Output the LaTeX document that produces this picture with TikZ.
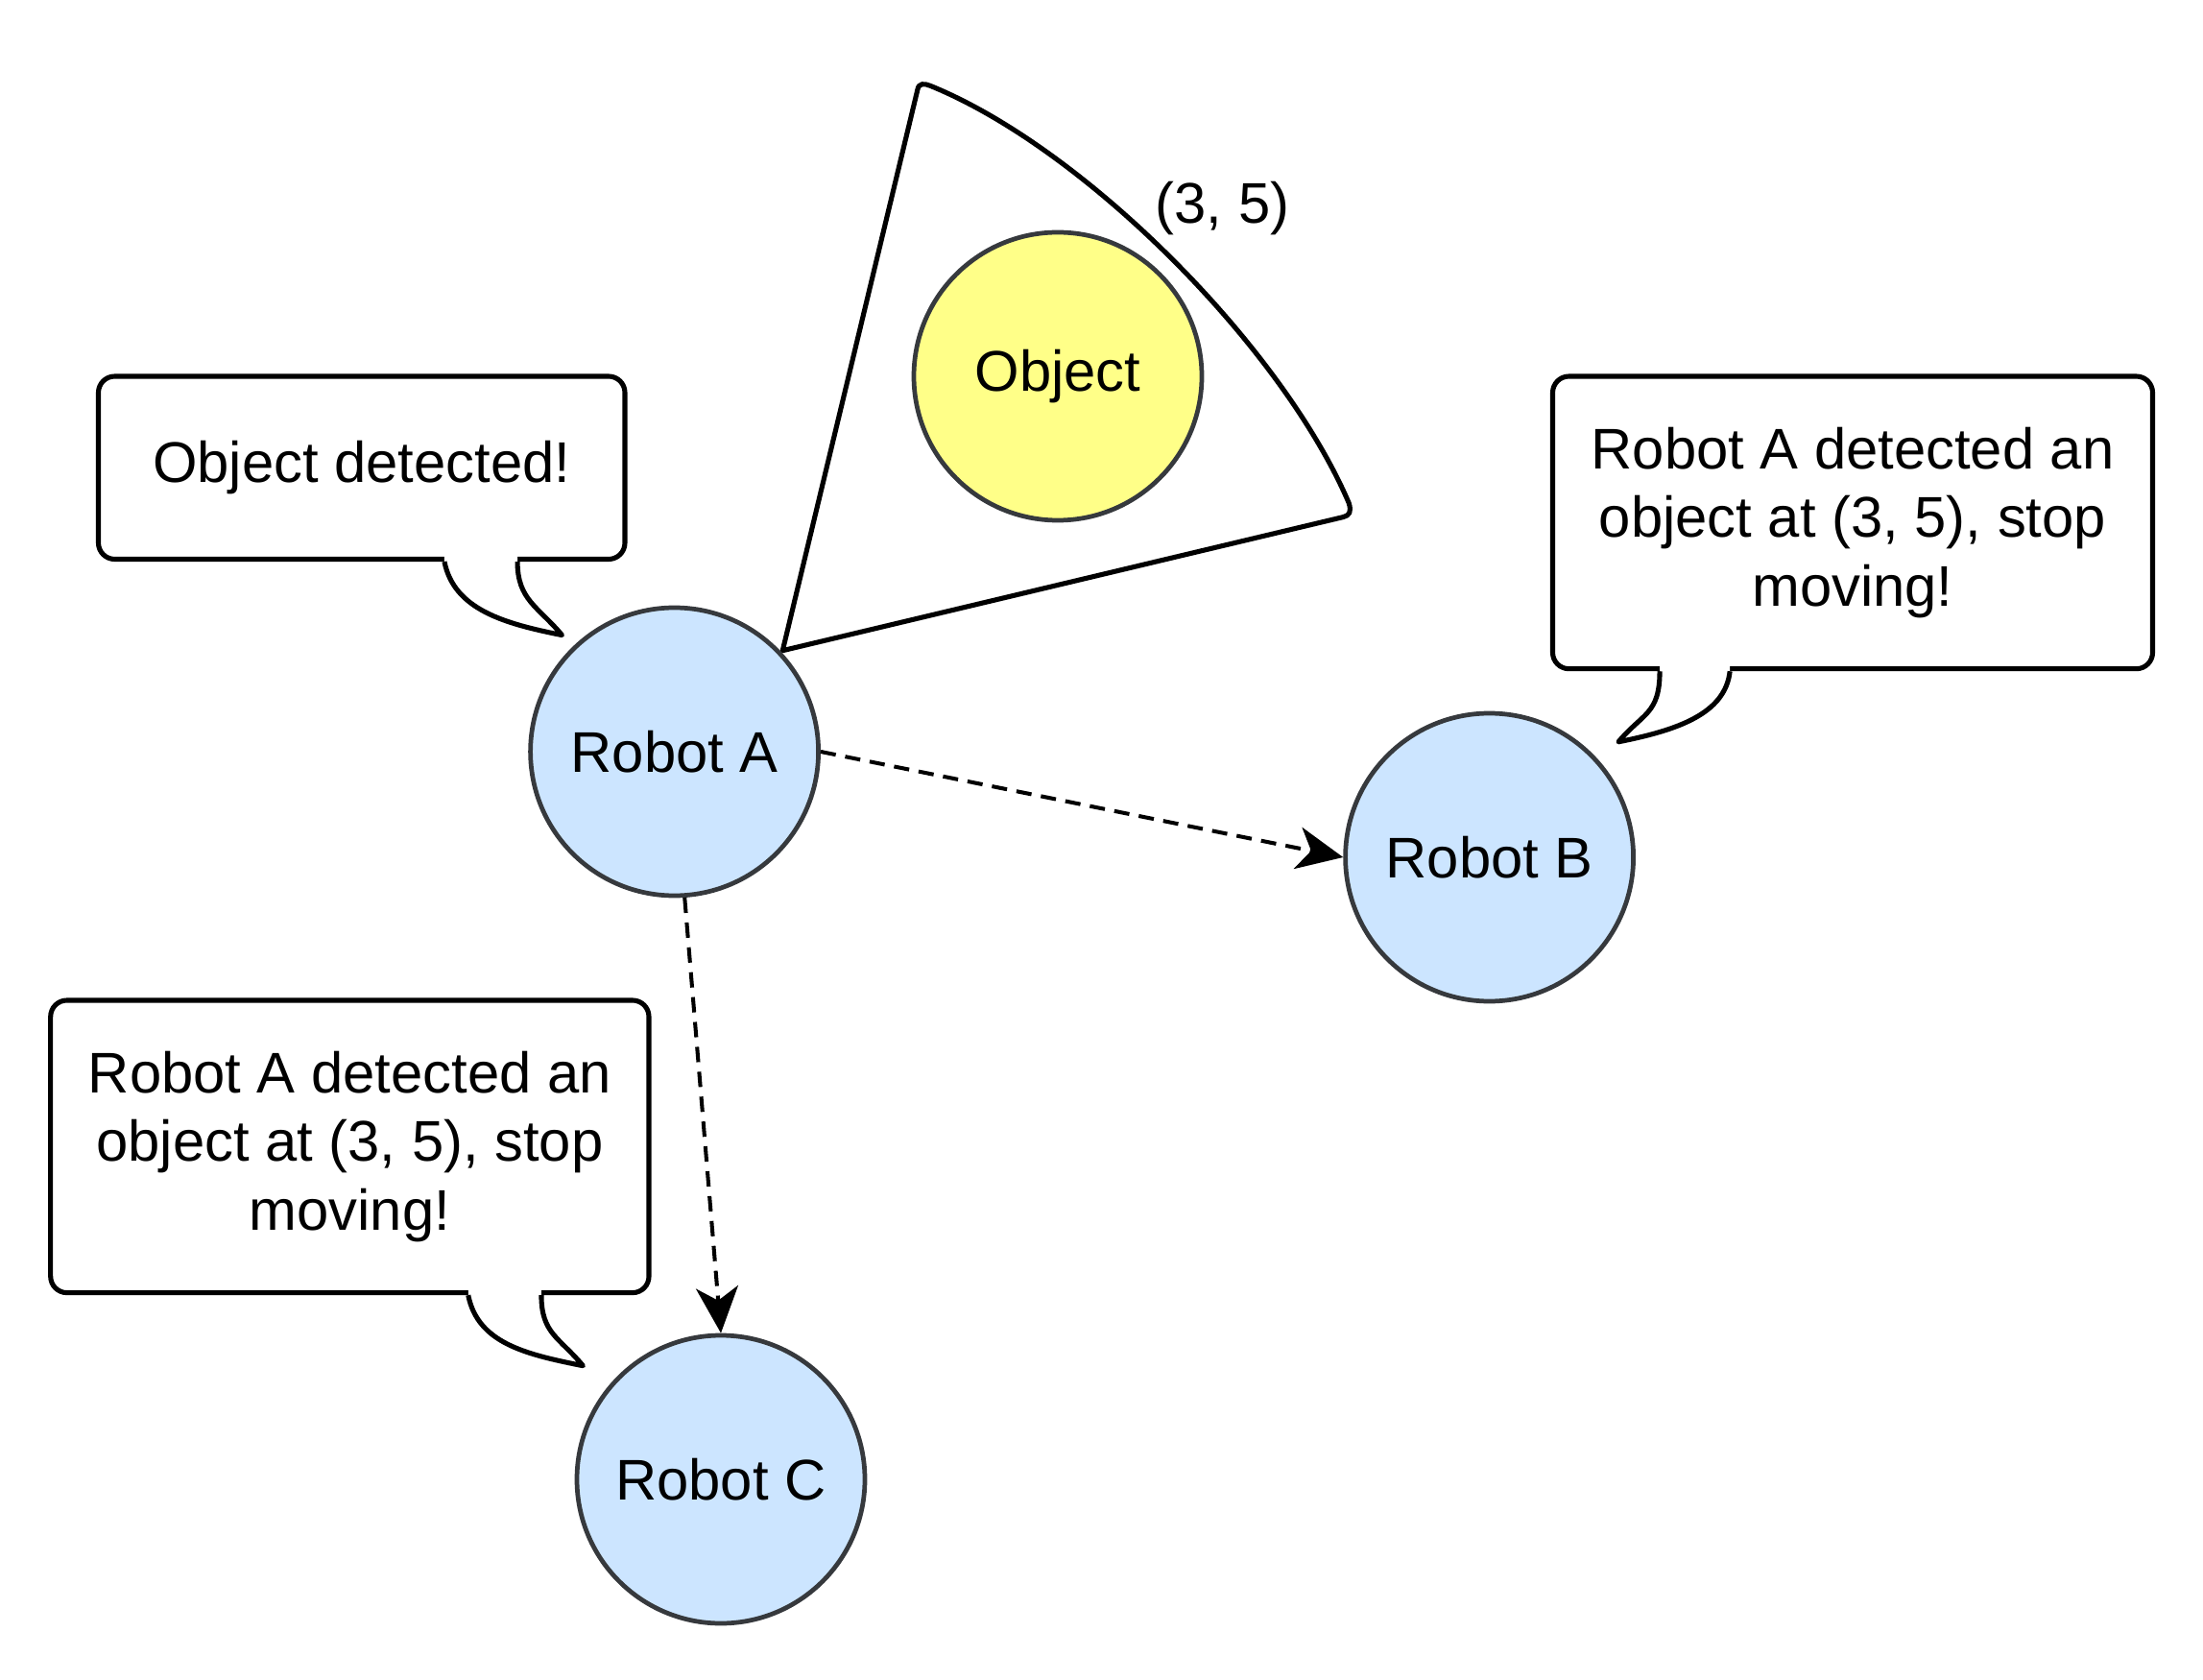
\documentclass[tikz,border=0pt]{standalone}
\usepackage{fontspec}
\setmainfont{Liberation Sans}
\usetikzlibrary{arrows.meta}
\definecolor{robotfill}{HTML}{CCE5FF}
\definecolor{objfill}{HTML}{FFFF88}
\definecolor{edge}{HTML}{36393D}
\begin{document}
\begin{tikzpicture}[
    robot/.style={circle, draw=edge, line width=1.35pt, fill=robotfill, minimum size=3cm, inner sep=0pt},
    thing/.style={robot, fill=objfill},
    say/.style={draw, line width=1.45pt, fill=white, rounded corners=0.17cm, align=center},
    msg/.style={dashed, dash pattern=on 0.16cm off 0.1cm, line width=1.15pt,
                -{Stealth[length=0.48cm, width=0.44cm, inset=0.14cm]}},
    tail/.style={line width=1.45pt, line join=round},
    font=\fontsize{17}{20.4}\selectfont
  ]
  \useasboundingbox (0, 0) rectangle (22.95, -17.5);

  % field of view of robot A
  \draw[line width=1.45pt, line join=round] (8.153, -6.777) -- (9.558, -0.937)
        .. controls (9.57, -0.86) and (9.63, -0.87) .. (9.69, -0.893)
        .. controls (11.314, -1.552) and (13.364, -3.63) .. (14.052, -5.24)
        .. controls (14.08, -5.33) and (14.06, -5.37) .. (13.993, -5.386) -- cycle;
  \node (obj) [thing] at (11.02, -3.92) {Object};
  \node (pos) at (12.735, -2.166) {(3, 5)};

  % robots
  \node (a) [robot] at (7.026, -7.83) {Robot A};
  \node (b) [robot] at (15.516, -8.93) {Robot B};
  \node (c) [robot] at (7.51, -15.41) {Robot C};

  \draw[msg] (a.east) -- (b.west);
  \draw[msg] (a.-86) -- (c.north);

  % speech bubbles
  \node (say1) [say, minimum width=5.485cm, minimum height=1.905cm] at (3.7675, -4.8725)
        {Object detected!};
  \node (sayb) [say, minimum width=6.25cm, minimum height=3.047cm] at (19.30, -5.4435)
        {Robot A detected an\\object at (3, 5), stop\\moving!};
  \node (sayc) [say, minimum width=6.233cm, minimum height=3.046cm] at (3.6435, -11.943)
        {Robot A detected an\\object at (3, 5), stop\\moving!};

  \coordinate (l1) at ([xshift=3.63cm]say1.south west);
  \coordinate (r1) at ([xshift=4.391cm]say1.south west);
  \coordinate (t1) at (5.855, -6.616);
  \coordinate (lb) at ([xshift=1.141cm]sayb.south west);
  \coordinate (rb) at ([xshift=1.872cm]sayb.south west);
  \coordinate (tb) at (16.86, -7.728);
  \coordinate (lc) at ([xshift=4.376cm]sayc.south west);
  \coordinate (rc) at ([xshift=5.138cm]sayc.south west);
  \coordinate (tc) at (6.074, -14.227);

  \fill[white] ([yshift=2pt]l1) -- (l1) .. controls +(0.1,-0.5) and +(-0.6,0.12) .. (t1)
        .. controls +(-0.25,0.3) and +(0,-0.4) .. (r1) -- ([yshift=2pt]r1) -- cycle;
  \draw[tail] (l1) .. controls +(0.1,-0.5) and +(-0.6,0.12) .. (t1)
        .. controls +(-0.25,0.3) and +(0,-0.4) .. (r1);

  \fill[white] ([yshift=2pt]lb) -- (lb) .. controls +(0,-0.45) and +(0.25,0.3) .. (tb)
        .. controls +(0.6,0.12) and +(-0.05,-0.45) .. (rb) -- ([yshift=2pt]rb) -- cycle;
  \draw[tail] (lb) .. controls +(0,-0.45) and +(0.25,0.3) .. (tb)
        .. controls +(0.6,0.12) and +(-0.05,-0.45) .. (rb);

  \fill[white] ([yshift=2pt]lc) -- (lc) .. controls +(0.1,-0.5) and +(-0.6,0.12) .. (tc)
        .. controls +(-0.25,0.3) and +(0,-0.4) .. (rc) -- ([yshift=2pt]rc) -- cycle;
  \draw[tail] (lc) .. controls +(0.1,-0.5) and +(-0.6,0.12) .. (tc)
        .. controls +(-0.25,0.3) and +(0,-0.4) .. (rc);
\end{tikzpicture}
\end{document}
